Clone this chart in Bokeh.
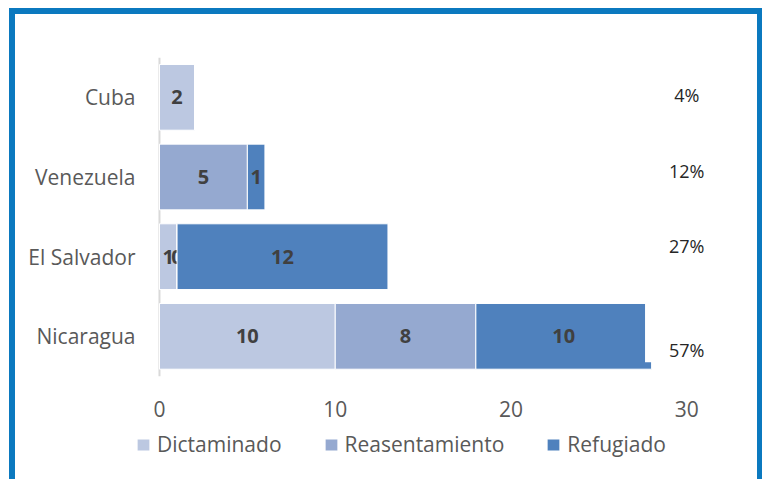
from bokeh.plotting import figure
from bokeh.models import (Range1d, FixedTicker, Legend, LegendItem, LinearAxis,
                          ColumnDataSource)
from bokeh.embed import file_html
from bokeh.resources import INLINE
from bokeh.core.properties import value

# ---------------- data ----------------
countries = ["Nicaragua", "El Salvador", "Venezuela", "Cuba"]   # bottom -> top
dictaminado = [10, 1, None, 2]
reasentamiento = [8, 0, 5, None]
refugiado = [10, 12, 1, None]
percent_labels = ["57%", "27%", "12%", "4%"]
series_names = ["Dictaminado", "Reasentamiento", "Refugiado"]
series_colors = ["#bcc8e1", "#95a9d0", "#4f81bd"]
x_ticks = [0, 10, 20, 30]

# ---------------- layout constants ----------------
FONT = "Open Sans"
GRAY = "#595959"
BLUE = "#0b79bf"
pct_offsets = [14, -11, -6, -2]     # vertical pixel nudges of the % labels
pct_boxed = [True, False, False, False]  # the 57% text box overlaps the bar end
BOX_LEFT, BOX_TOP = 24, 50          # white text-box padding (left, top)
X_MIN, X_MAX = -1.25, 33            # room left of 0 for the legend, right for the %
Y_MIN, Y_MAX = -1.797, 3.5          # room below the bars for tick labels + legend
XAXIS_AT = -1.2                     # where the value-axis labels sit (below bars)

rows = list(range(len(countries)))

p = figure(width=763, height=479, output_backend="svg", toolbar_location=None,
           y_range=Range1d(Y_MIN, Y_MAX), x_range=Range1d(X_MIN, X_MAX),
           x_axis_location=None, y_axis_location="left",
           min_border_left=137, min_border_right=24,
           min_border_top=57, min_border_bottom=0,
           background_fill_color="white", border_fill_color=None,
           styles={"box-shadow": (f"inset 9px 0 0 0 white, inset 0 8px 0 0 white, "
                                  f"inset -1px 0 0 0 white, "
                                  f"inset 15px 0 0 0 {BLUE}, inset 0 14px 0 0 {BLUE}, "
                                  f"inset -6px 0 0 0 {BLUE}")})
p.outline_line_color = None
p.grid.visible = False

# value axis base line at 0 (spanning the category rows only)
p.segment(x0=[0], x1=[0], y0=[rows[0] - 0.5], y1=[rows[-1] + 0.5],
          line_color="#d9d9d9", line_width=2)

series = [dictaminado, reasentamiento, refugiado]
running = [0.0] * len(countries)
renderers = []
for name, vals, col in zip(series_names, series, series_colors):
    left = list(running)
    right = [l + (v or 0) for l, v in zip(left, vals)]
    running = right
    src = ColumnDataSource(dict(y=rows, left=left, right=right))
    r = p.hbar(y="y", left="left", right="right", height=0.825, source=src,
               fill_color=col, line_color="white", line_width=1)
    renderers.append(r)
    lab = dict(x=[], y=[], t=[])
    for i, l, rr, v in zip(rows, left, right, vals):
        if v is not None:
            lab["x"].append((l + rr) / 2)
            lab["y"].append(i)
            lab["t"].append(str(v))
    p.text(x="x", y="y", text="t", source=ColumnDataSource(lab),
           text_font=value(FONT), text_font_size="20px", text_font_style="bold",
           text_color="#404040", text_align="center", text_baseline="middle")

# percentage labels at the right
for i, t, off, boxed in zip(rows, percent_labels, pct_offsets, pct_boxed):
    kw = dict(x_offset=0, y_offset=off)
    if boxed:
        # padding order here is (left, right, top, bottom); shift so the text stays put
        kw = dict(background_fill_color="white", padding=(BOX_LEFT, 0, BOX_TOP, 0),
                  x_offset=-BOX_LEFT / 2, y_offset=off - BOX_TOP / 2)
    p.text(x=[x_ticks[-1]], y=[i], text=[t],
           text_font=value(FONT), text_font_size="18px", text_color="#262626",
           text_align="center", text_baseline="middle", **kw)

# value axis: labels drawn just below the bars
xaxis = LinearAxis(ticker=FixedTicker(ticks=x_ticks), fixed_location=XAXIS_AT,
                   axis_line_color=None, major_tick_line_color=None,
                   minor_tick_line_color=None, major_tick_out=0, major_tick_in=0,
                   major_label_text_font=FONT, major_label_text_font_size="21px",
                   major_label_text_color=GRAY, major_label_standoff=15)
p.add_layout(xaxis, "above")

# category axis
p.yaxis.ticker = FixedTicker(ticks=rows)
p.yaxis.major_label_overrides = {i: c for i, c in zip(rows, countries)}
p.yaxis.axis_line_color = None
p.yaxis.major_tick_line_color = None
p.yaxis.minor_tick_line_color = None
p.yaxis.major_tick_out = 0
p.yaxis.major_tick_in = 0
p.yaxis.major_label_text_font = FONT
p.yaxis.major_label_text_font_size = "21px"
p.yaxis.major_label_text_color = GRAY
p.yaxis.major_label_standoff = 2

legend = Legend(items=[LegendItem(label=n, renderers=[r]) for n, r in zip(series_names, renderers)],
                orientation="horizontal", location=(-2, 21),
                glyph_width=16, glyph_height=15, label_standoff=6, spacing=41,
                padding=0, margin=0, label_height=20,
                label_text_font=FONT, label_text_font_size="21px", label_text_color=GRAY,
                border_line_color=None, background_fill_alpha=0)
p.add_layout(legend)

open("out.html", "w").write(file_html(p, INLINE))
